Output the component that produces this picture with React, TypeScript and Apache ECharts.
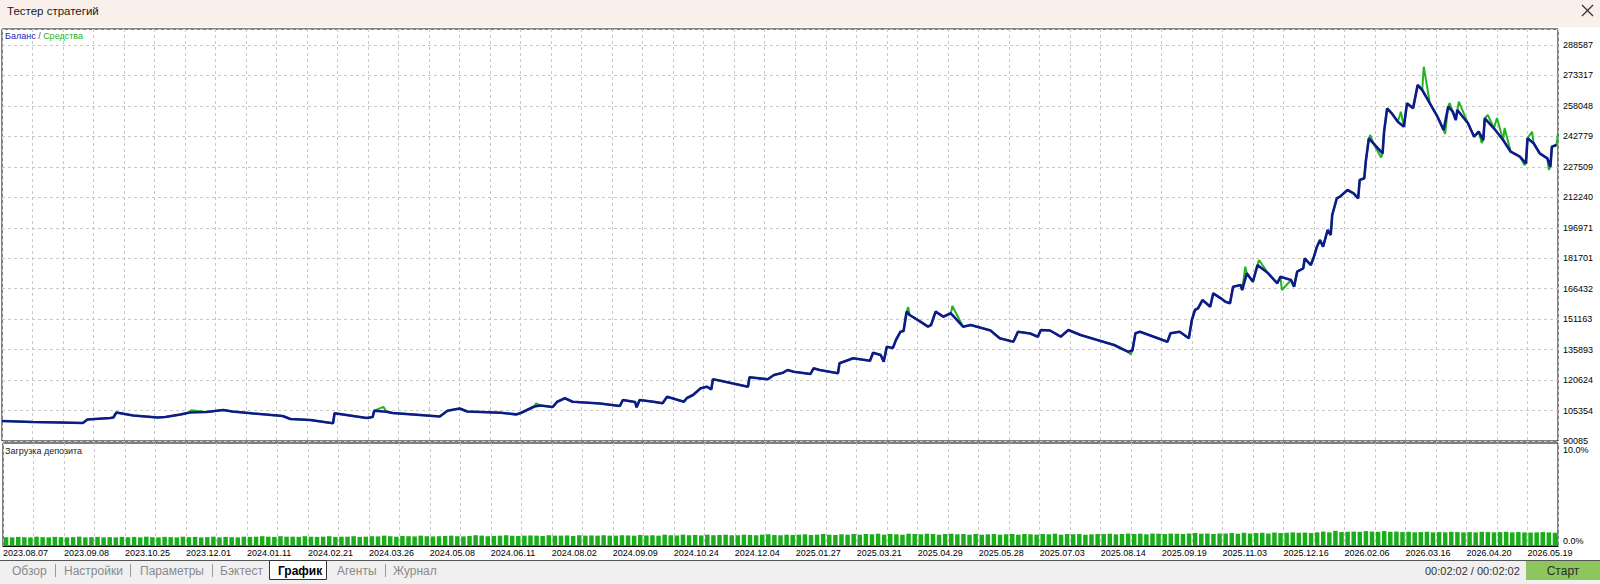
import React, { useEffect, useRef } from "react";
import * as echarts from "echarts";

// ---- data ----
const dateLabels = [
  "2023.08.07", "2023.09.08", "2023.10.25", "2023.12.01", "2024.01.11", "2024.02.21",
  "2024.03.26", "2024.05.08", "2024.06.11", "2024.08.02", "2024.09.09", "2024.10.24",
  "2024.12.04", "2025.01.27", "2025.03.21", "2025.04.29", "2025.05.28", "2025.07.03",
  "2025.08.14", "2025.09.19", "2025.11.03", "2025.12.16", "2026.02.06", "2026.03.16",
  "2026.04.20", "2026.05.19",
];

const balanceTickLabels = [
  "90085", "105354", "120624", "135893", "151163", "166432", "181701",
  "196971", "212240", "227509", "242779", "258048", "273317", "288587",
];

const loadTickLabels = ["0.0%", "10.0%"];

// deal index (x) and balance (y)
const balanceX = [
  0, 20, 38, 53, 56, 71, 73, 75, 86, 102,
  107, 117, 123, 134, 145, 151, 165, 184, 189, 202,
  217, 218, 228, 239, 243, 244, 252, 256, 274, 287,
  292, 300, 305, 327, 337, 340, 349, 353, 361, 364,
  369, 374, 392, 405, 407, 415, 416, 418, 427, 433,
  436, 447, 449, 453, 458, 462, 465, 466, 471, 489,
  490, 502, 506, 512, 515, 519, 530, 532, 536, 548,
  549, 558, 569, 571, 576, 578, 580, 584, 586, 589,
  591, 593, 595, 602, 607, 609, 612, 617, 622, 630,
  635, 641, 648, 654, 663, 666, 674, 679, 681, 687,
  694, 699, 707, 718, 729, 738, 741, 743, 746, 755,
  764, 766, 772, 778, 780, 782, 784, 787, 792, 794,
  799, 802, 805, 807, 812, 813, 816, 820, 823, 830,
  836, 838, 845, 847, 849, 853, 854, 858, 860, 862,
  864, 866, 869, 871, 872, 875, 877, 882, 886, 889,
  890, 893, 894, 896, 899, 905, 906, 908, 911, 915,
  919, 921, 925, 928, 931, 936, 941, 945, 948, 951,
  953, 954, 961, 965, 968, 971, 972, 978, 984, 989,
  995, 999, 1000, 1004, 1008, 1013, 1015, 1016, 1019,
];

const balanceY = [
  100111, 99610, 99359, 99108, 100863, 101615, 101865, 104372, 102868, 101865,
  102116, 103369, 104372, 104622, 105625, 104873, 103870, 102617, 101113, 100612,
  98958, 103971, 102868, 101615, 102116, 105274, 104773, 104121, 103119, 102367,
  105274, 106377, 104873, 104271, 103419, 104121, 107380, 107881, 107129, 109786,
  111490, 109786, 108883, 107630, 110638, 109635, 106978, 110638, 109786, 108984,
  112292, 109786, 111640, 113144, 116503, 117305, 116002, 121015, 120313, 117305,
  122017, 121015, 123170, 124323, 125677, 124824, 123671, 126529, 125677, 124022,
  129035, 131542, 130339, 134349, 133196, 129837, 137357, 136705, 140715, 144876,
  145227, 154902, 153248, 149889, 147382, 148235, 154902, 152395, 154100, 147382,
  148235, 146981, 145478, 141567, 139863, 144876, 143974, 142370, 145728, 145478,
  142370, 145728, 143222, 140715, 138209, 134850, 135452, 144074, 144876, 142370,
  139863, 144074, 144876, 141567, 150741, 155754, 156606, 160767, 157408, 164126,
  161619, 159915, 159113, 167434, 168286, 165780, 174151, 169940, 178312, 174151,
  169138, 172447, 170793, 167434, 174953, 176658, 181671, 178312, 182473, 187486,
  190844, 187486, 195857, 193351, 203377, 211748, 212550, 215909, 214255, 211748,
  220922, 221774, 230095, 241825, 239319, 234306, 245134, 256864, 254358, 250147,
  247640, 259370, 256864, 268544, 266038, 259370, 252653, 245986, 257666, 255160,
  250999, 256012, 249345, 242628, 245134, 240973, 251851, 246838, 240973, 235108,
  232602, 229293, 241825, 239319, 234306, 231800, 227589, 237615, 238467,
];

// points where equity leaves the balance line
const equitySpikeX = [
  124, 250, 350, 594, 623, 740, 815, 824, 839, 897, 904, 917, 932,
  946, 949, 955, 970, 974, 980, 985, 998, 1003, 1014, 1020,
];
const equitySpikeY = [
  105475, 107179, 108900, 157258, 157759, 133500, 177460, 180818, 165780, 243480, 232200, 255160, 277718,
  244000, 259521, 260173, 239500, 253512, 252002, 246989, 228441, 245134, 226000, 244482,
];

// deposit load, %, one bar every 4 deals
const loadValues = [
  0.92, 0.9, 0.95, 0.92, 0.9, 0.97, 0.92, 0.9, 0.95, 0.92, 0.9, 0.92, 0.97, 0.9, 0.92, 0.95, 0.9, 0.92, 0.9, 0.95,
  0.92, 0.95, 0.9, 0.97, 0.92, 0.9, 0.95, 0.92, 0.9, 0.97, 0.92, 0.95, 0.9, 0.92, 0.97, 0.9, 0.95, 0.92, 0.9, 0.97,
  0.95, 0.97, 1.02, 0.97, 0.95, 1.02, 0.97, 0.97, 0.95, 1.02, 0.97, 0.95, 0.97, 1.02, 0.95, 0.97, 0.97, 1.02, 0.95, 0.97,
  1.02, 1.0, 1.08, 1.02, 0.97, 1.05, 1.02, 1.0, 1.08, 1.02, 1.0, 1.02, 1.05, 1.08, 1.02, 1.0, 1.05, 1.12, 1.08, 1.02,
  1.05, 1.08, 1.12, 1.08, 1.05, 1.08, 1.1, 1.08, 1.05, 1.12, 1.08, 1.08, 1.1, 1.05, 1.12, 1.08, 1.1, 1.08, 1.12, 1.08,
  1.08, 1.12, 1.1, 1.08, 1.15, 1.1, 1.12, 1.08, 1.18, 1.12, 1.1, 1.18, 1.12, 1.15, 1.1, 1.18, 1.12, 1.15, 1.18, 1.12,
  1.12, 1.18, 1.15, 1.12, 1.18, 1.22, 1.15, 1.12, 1.18, 1.15, 1.18, 1.22, 1.15, 1.18, 1.25, 1.18, 1.15, 1.22, 1.18, 1.25,
  1.18, 1.25, 1.22, 1.28, 1.18, 1.25, 1.22, 1.18, 1.28, 1.25, 1.22, 1.28, 1.25, 1.18, 1.25, 1.28, 1.22, 1.25, 1.18, 1.25,
  1.18, 1.22, 1.25, 1.18, 1.22, 1.25, 1.18, 1.25, 1.22, 1.18, 1.25, 1.22, 1.28, 1.18, 1.25, 1.22, 1.25, 1.18, 1.22, 1.25,
  1.25, 1.28, 1.22, 1.25, 1.3, 1.25, 1.28, 1.22, 1.3, 1.28, 1.25, 1.3, 1.28, 1.25, 1.3, 1.35, 1.28, 1.3, 1.25, 1.3,
  1.3, 1.35, 1.28, 1.38, 1.3, 1.35, 1.38, 1.3, 1.4, 1.35, 1.38, 1.42, 1.38, 1.4, 1.35, 1.42, 1.5, 1.42, 1.58, 1.45,
  1.48, 1.5, 1.48, 1.55, 1.5, 1.48, 1.55, 1.48, 1.5, 1.45, 1.48, 1.42, 1.45, 1.48, 1.42, 1.45, 1.42, 1.48, 1.45, 1.42,
  1.45, 1.42, 1.48, 1.45, 1.42, 1.45, 1.48, 1.42, 1.45, 1.42, 1.4, 1.42, 1.45, 1.42, 1.38,
];

const tabs = ["Обзор", "Настройки", "Параметры", "Бэктест", "График", "Агенты", "Журнал"];
const activeTab = "График";

// ---- scale settings ----
const Y_MIN = 90085;
const Y_STEP = 198502 / 13;
const Y_MAX = 296617;
const X_MAX = 1020;
const X_STEP = 20;
const LOAD_MAX = 10.73;

const FONT = "'Liberation Sans', Arial, sans-serif";
const GRID_LINE = { color: "#c8c8c8", type: [3, 3] as number[], width: 1 };

export default function App() {
  const ref = useRef<HTMLDivElement>(null);

  useEffect(() => {
    document.body.style.margin = "0";
    const chart = echarts.init(ref.current as HTMLDivElement, undefined, {
      renderer: "svg",
      width: 1600,
      height: 584,
    });

    const balance = balanceX.map((x, i) => [x, balanceY[i]]);
    const equity = balance
      .concat(equitySpikeX.map((x, i) => [x, equitySpikeY[i]]))
      .sort((a, b) => a[0] - b[0]);
    const load = loadValues.map((v, i) => [i * 4 + 2, v]);

    const tabX = [12, 64, 140, 220, 278, 337, 393];
    const sepX = [55, 130, 212, 385];

    const graphics: any[] = [
      { type: "rect", shape: { x: 0, y: 0, width: 1600, height: 27 }, style: { fill: "#f9efeb" }, silent: true },
      {
        type: "text", x: 7, y: 11,
        style: { text: "Тестер стратегий", fill: "#1a1a1a", font: `11.5px ${FONT}`, textVerticalAlign: "middle" },
      },
      { type: "line", shape: { x1: 1582, y1: 5, x2: 1593, y2: 16 }, style: { stroke: "#333", lineWidth: 1.2 } },
      { type: "line", shape: { x1: 1593, y1: 5, x2: 1582, y2: 16 }, style: { stroke: "#333", lineWidth: 1.2 } },
      {
        type: "text", x: 5, y: 36, z: 200,
        style: {
          text: "{a|Баланс}{b| / }{c|Средства}",
          textVerticalAlign: "middle",
          rich: {
            a: { fill: "#2424b8", font: `9px ${FONT}` },
            b: { fill: "#555", font: `9px ${FONT}` },
            c: { fill: "#22b422", font: `9px ${FONT}` },
          },
        },
      },
      {
        type: "text", x: 5, y: 451, z: 200,
        style: { text: "Загрузка депозита", fill: "#222", font: `9px ${FONT}`, textVerticalAlign: "middle" },
      },
      { type: "rect", shape: { x: 0, y: 560, width: 1600, height: 24 }, style: { fill: "#f0f0f0" }, silent: true },
      { type: "line", shape: { x1: 0, y1: 560.5, x2: 1600, y2: 560.5 }, style: { stroke: "#555", lineWidth: 1 } },
      {
        type: "rect", shape: { x: 269.5, y: 560.5, width: 57, height: 19 },
        style: { fill: "#fff", stroke: "#333", lineWidth: 1 },
      },
    ];
    tabs.forEach((t, i) => {
      graphics.push({
        type: "text", x: tabX[i], y: 571,
        style: {
          text: t,
          fill: t === activeTab ? "#000" : "#8a8a8a",
          font: `${t === activeTab ? "bold " : ""}12px ${FONT}`,
          textVerticalAlign: "middle",
        },
      });
    });
    sepX.forEach((x) => {
      graphics.push({ type: "line", shape: { x1: x + 0.5, y1: 564, x2: x + 0.5, y2: 577 }, style: { stroke: "#9a9a9a", lineWidth: 1 } });
    });
    graphics.push(
      {
        type: "text", x: 1425, y: 571,
        style: { text: "00:02:02 / 00:02:02", fill: "#333", font: `11px ${FONT}`, textVerticalAlign: "middle" },
      },
      { type: "rect", shape: { x: 1526, y: 561, width: 74, height: 19 }, style: { fill: "#8cc65c" } },
      {
        type: "text", x: 1563, y: 571,
        style: { text: "Старт", fill: "#2a2a2a", font: `12px ${FONT}`, textAlign: "center", textVerticalAlign: "middle" },
      }
    );

    const option: any = {
      animation: false,
      backgroundColor: "#ffffff",
      grid: [
        { left: 2, top: 29, width: 1556, height: 412, show: true, borderColor: "#000", borderWidth: 1, backgroundColor: "#fff" },
        { left: 2, top: 443, width: 1556, height: 103, show: true, borderColor: "#000", borderWidth: 1, backgroundColor: "#fff" },
      ],
      xAxis: [
        {
          type: "value", gridIndex: 0, min: 0, max: X_MAX, interval: X_STEP,
          axisLine: { show: false }, axisTick: { show: false }, axisLabel: { show: false },
          splitLine: { show: true, lineStyle: GRID_LINE },
        },
        {
          type: "value", gridIndex: 1, min: 0, max: X_MAX, interval: X_STEP,
          axisLine: { show: true, lineStyle: { color: "#000" } }, axisTick: { show: false },
          splitLine: { show: true, lineStyle: GRID_LINE },
          axisLabel: {
            show: true, margin: 2, align: "left", color: "#000", fontSize: 9, fontFamily: FONT,
            formatter: (v: number) => (v % 40 === 0 ? dateLabels[v / 40] || "" : ""),
          },
        },
      ],
      yAxis: [
        {
          type: "value", gridIndex: 0, position: "right", min: Y_MIN, max: Y_MAX, interval: Y_STEP,
          axisLine: { show: false }, axisTick: { show: false },
          splitLine: { show: true, lineStyle: GRID_LINE },
          axisLabel: {
            show: true, margin: 5, color: "#000", fontSize: 9, fontFamily: FONT,
            formatter: (v: number) => {
              const k = Math.round((v - Y_MIN) / Y_STEP);
              return Math.abs(v - (Y_MIN + k * Y_STEP)) < 1 && k < balanceTickLabels.length ? balanceTickLabels[k] : "";
            },
          },
        },
        {
          type: "value", gridIndex: 1, position: "right", min: 0, max: LOAD_MAX, interval: 10,
          axisLine: { show: false }, axisTick: { show: false }, splitLine: { show: false },
          axisLabel: {
            show: true, margin: 5, color: "#000", fontSize: 9, fontFamily: FONT,
            formatter: (v: number) => (v === 0 ? "{low|" + loadTickLabels[0] + "}" : v === 10 ? loadTickLabels[1] : ""),
            rich: { low: { fontSize: 9, fontFamily: FONT, color: "#000", padding: [0, 0, 10, 0] } },
          },
        },
      ],
      series: [
        {
          name: "Средства", type: "line", xAxisIndex: 0, yAxisIndex: 0, data: equity,
          symbol: "none", lineStyle: { color: "#22b422", width: 2 }, z: 2, silent: true,
        },
        {
          name: "Баланс", type: "line", xAxisIndex: 0, yAxisIndex: 0, data: balance,
          symbol: "none", lineStyle: { color: "#0e1a8a", width: 2.6 }, z: 3, silent: true,
        },
        {
          name: "Загрузка депозита", type: "bar", xAxisIndex: 1, yAxisIndex: 1, data: load,
          barWidth: 4.5, itemStyle: { color: "#19ad19" }, silent: true,
        },
      ],
      graphic: graphics,
    };

    chart.setOption(option);
    return () => chart.dispose();
  }, []);

  return <div ref={ref} style={{ width: 1600, height: 584 }} />;
}
